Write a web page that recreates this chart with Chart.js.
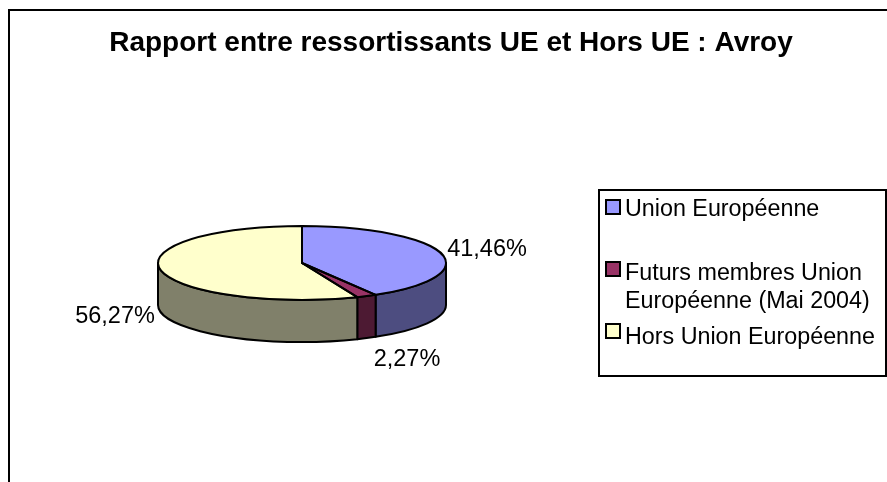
<!DOCTYPE html>
<html>
<head>
<meta charset="utf-8">
<title>Avroy</title>
<script src="https://cdn.jsdelivr.net/npm/chart.js@4/dist/chart.umd.min.js"></script>
<style>
    html, body { margin: 0; padding: 0; background: #fff; overflow: hidden; }
    #wrap { position: relative; width: 887px; height: 482px; }
</style>
</head>
<body>
<div id="wrap"><canvas id="pie"></canvas></div>
<script>
const titleText = 'Rapport entre ressortissants UE et Hors UE : Avroy';
const categories = ['Union Européenne', 'Futurs membres Union Européenne (Mai 2004)', 'Hors Union Européenne'];
const legendLines = [['Union Européenne'], ['Futurs membres Union', 'Européenne (Mai 2004)'], ['Hors Union Européenne']];
const shares = [41.46, 2.27, 56.27];
const topColors = ['#9999ff', '#993366', '#ffffcc'];
const wallColors = ['#4d4d80', '#4d1a33', '#80806a'];

const FONT = '"Liberation Sans", Arial, sans-serif';
const SQUASH = 37 / 144;   // aplatissement de l'ellipse
const DEPTH = 42;          // hauteur du cylindre

// position des étiquettes (x, y du centre du texte)
const labelPos = [[487, 250], [407, 360], [115, 317]];
// lignes de la légende : y de la case, puis y de chaque ligne de texte
const legendRows = [
    { box: 200, text: [210] },
    { box: 262, text: [274, 302] },
    { box: 324, text: [338] }
];

const pie3d = {
    id: 'pie3d',
    beforeDatasetsDraw(chart) {
        const ctx = chart.ctx;
        const arcs = chart.getDatasetMeta(0).data;
        const { x: cx, y: cy, outerRadius: r } = arcs[0];
        const ry = r * SQUASH;

        // parois : seulement la moitié avant du cylindre
        ctx.save();
        ctx.lineWidth = 2;
        ctx.strokeStyle = '#000';
        ctx.lineJoin = 'round';
        arcs.forEach((arc, i) => {
            const a0 = Math.max(arc.startAngle, 0);
            const a1 = Math.min(arc.endAngle, Math.PI);
            if (a1 <= a0) return;
            ctx.beginPath();
            ctx.ellipse(cx, cy, r, ry, 0, a0, a1);
            ctx.ellipse(cx, cy + DEPTH, r, ry, 0, a1, a0, true);
            ctx.closePath();
            ctx.fillStyle = wallColors[i];
            ctx.fill();
            ctx.stroke();
        });
        ctx.restore();

        // le dessus : la bibliothèque dessine les parts dans le repère aplati
        ctx.save();
        ctx.translate(cx, cy);
        ctx.scale(1, SQUASH);
        ctx.translate(-cx, -cy);
    },
    afterDatasetsDraw(chart) {
        const ctx = chart.ctx;
        ctx.restore();

        const arcs = chart.getDatasetMeta(0).data;
        const { x: cx, y: cy, outerRadius: r } = arcs[0];
        const ry = r * SQUASH;

        ctx.save();
        ctx.lineWidth = 2;
        ctx.strokeStyle = '#000';
        ctx.lineJoin = 'round';
        arcs.forEach(arc => {
            ctx.beginPath();
            ctx.moveTo(cx, cy);
            ctx.ellipse(cx, cy, r, ry, 0, arc.startAngle, arc.endAngle);
            ctx.closePath();
            ctx.stroke();
        });
        ctx.restore();
    },
    afterDraw(chart) {
        const ctx = chart.ctx;
        ctx.save();

        // cadre du graphique (coupé à droite et en bas)
        ctx.strokeStyle = '#000';
        ctx.lineWidth = 2;
        ctx.beginPath();
        ctx.moveTo(9, 482);
        ctx.lineTo(9, 10);
        ctx.lineTo(887, 10);
        ctx.stroke();

        // titre
        ctx.fillStyle = '#000';
        ctx.textBaseline = 'middle';
        ctx.textAlign = 'center';
        ctx.font = 'bold 28px ' + FONT;
        ctx.fillText(titleText, 451, 43);

        // étiquettes
        ctx.font = '23.5px ' + FONT;
        shares.forEach((v, i) => {
            ctx.fillText(v.toFixed(2).replace('.', ',') + '%', labelPos[i][0], labelPos[i][1]);
        });

        // légende
        ctx.lineWidth = 2;
        ctx.strokeRect(599, 190, 287, 186);
        ctx.textAlign = 'left';
        ctx.font = '23.3px ' + FONT;
        legendLines.forEach((lines, i) => {
            ctx.fillStyle = topColors[i];
            ctx.fillRect(606, legendRows[i].box, 14, 14);
            ctx.strokeRect(606, legendRows[i].box, 14, 14);
            ctx.fillStyle = '#000';
            lines.forEach((line, j) => ctx.fillText(line, 625, legendRows[i].text[j]));
        });
        ctx.restore();
    }
};

new Chart(document.getElementById('pie'), {
    type: 'pie',
    data: {
        labels: categories,
        datasets: [{
            data: shares,
            backgroundColor: topColors,
            borderWidth: 0
        }]
    },
    options: {
        responsive: true,
        maintainAspectRatio: false,
        animation: false,
        // zone de 288 x 288 centrée sur le pivot du camembert (302, 263)
        layout: { padding: { left: 158, right: 441, top: 119, bottom: 75 } },
        plugins: {
            legend: { display: false },
            title: { display: false },
            tooltip: { enabled: false }
        }
    },
    plugins: [pie3d]
});
</script>
</body>
</html>
